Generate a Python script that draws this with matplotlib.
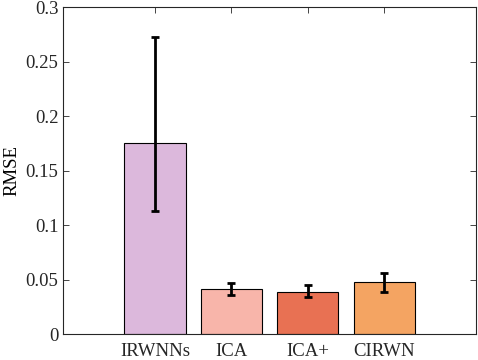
import matplotlib
matplotlib.use("Agg")
import matplotlib.pyplot as plt
import numpy as np

categories = ["IRWNNs", "ICA", "ICA+", "CIRWN"]
rmse = [0.1758, 0.0413, 0.0391, 0.0483]
err_low = [0.1134, 0.0358, 0.0342, 0.0388]
err_high = [0.2728, 0.0473, 0.0452, 0.0560]
colors = ["#DCB8DC", "#F8B5AA", "#E87153", "#F4A462"]

plt.rcParams['font.family'] = ['Liberation Serif', 'DejaVu Serif']
plt.rcParams['font.size'] = 13.5

fig = plt.figure(figsize=(4.78, 3.6), dpi=100)
ax = fig.add_axes([0.1325, 0.0714, 0.8633, 0.9083])

x = np.arange(1, len(categories) + 1)
vals = np.array(rmse)
lo = vals - np.array(err_low)
hi = np.array(err_high) - vals
ax.bar(x, vals, width=0.8, color=colors, edgecolor="black", linewidth=0.8, zorder=2)
ax.errorbar(x, vals, yerr=[lo, hi], fmt="none", ecolor="black", elinewidth=2,
            capsize=2.8, capthick=2, zorder=3)

ax.set_xlim(-0.2, 5.2)
ax.set_ylim(0, 0.3)
ax.set_xticks(x)
ax.set_xticklabels(categories)
ax.set_yticks(np.arange(0, 0.31, 0.05))
ax.set_yticklabels(["0", "0.05", "0.1", "0.15", "0.2", "0.25", "0.3"])
ax.set_ylabel("RMSE", labelpad=4)
ax.tick_params(direction="in", top=True, right=True, length=4, width=0.6,
               colors="#262626", labelcolor="#262626")
ax.tick_params(axis="x", pad=6)
for s in ax.spines.values():
    s.set_color("#262626")
    s.set_linewidth(0.8)

fig.savefig("out.png", dpi=100)
